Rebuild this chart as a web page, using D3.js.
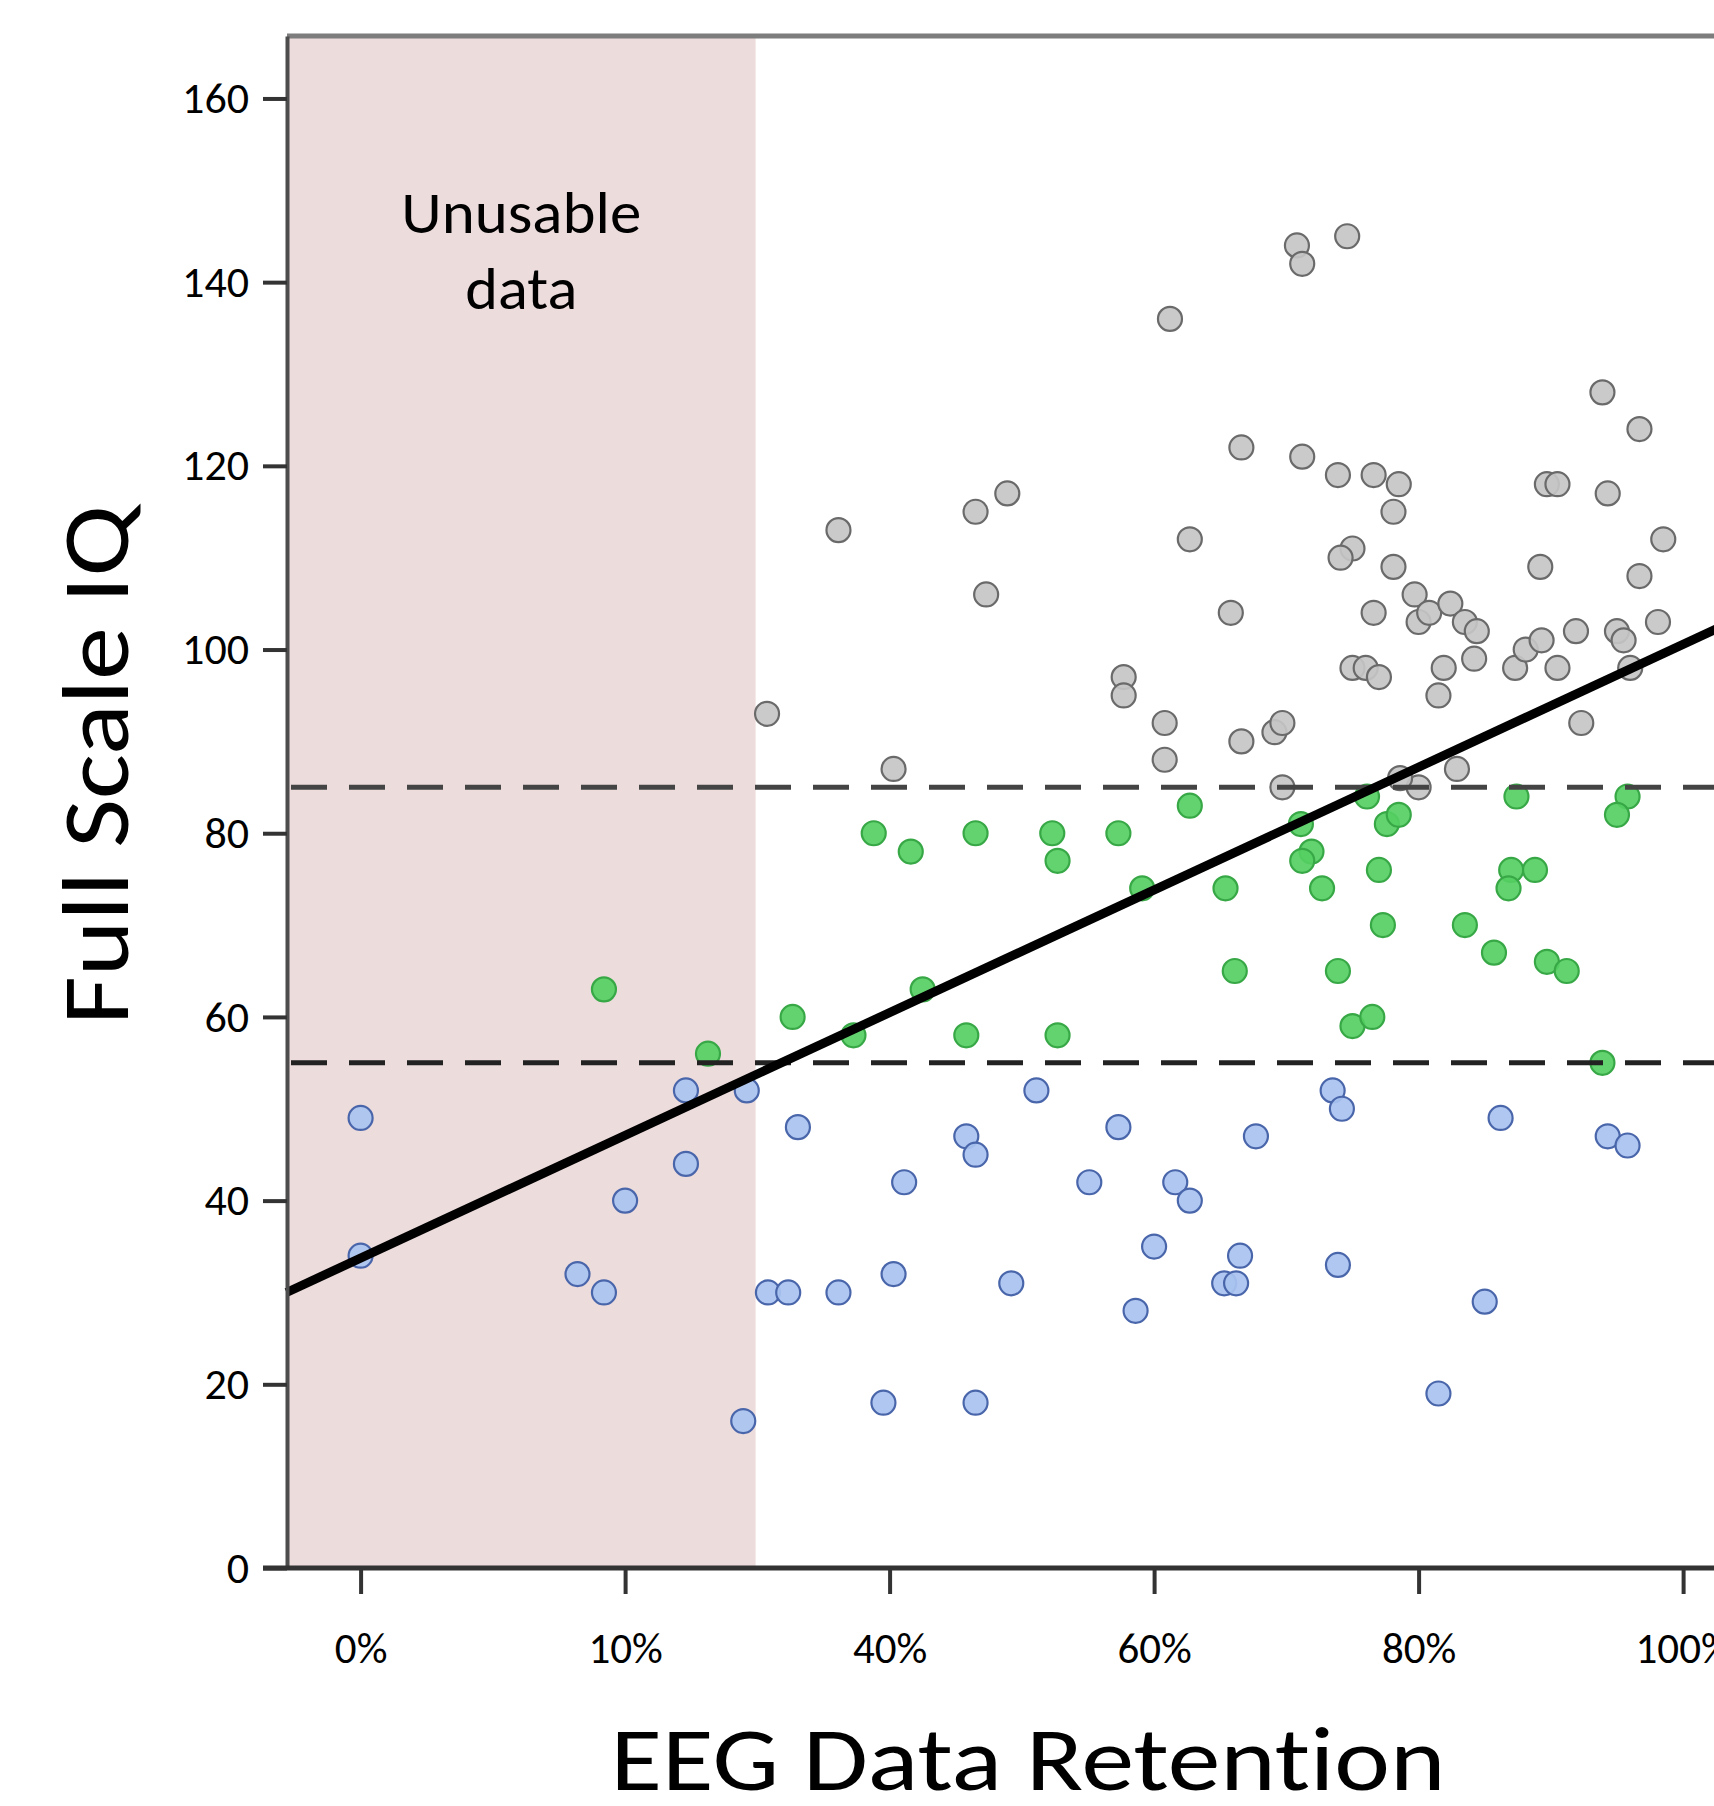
<!DOCTYPE html>
<html>
<head>
<meta charset="utf-8">
<script src="https://cdn.jsdelivr.net/npm/d3@7"></script>
<style>
  body { margin: 0; background: #ffffff; }
  svg { display: block; font-family: Carlito, Calibri, Lato, sans-serif; font-variant-ligatures: none; }
</style>
</head>
<body>
<div id="scatter"></div>
<script>
//Points: [EEG data retention (%), full scale IQ]
var highIQ = [
    [26.1, 93], [34.2, 113], [40.3, 87], [46.5, 115], [48.9, 117], [47.3, 106],
    [61.2, 136], [60.8, 92], [60.8, 88], [57.7, 97], [57.7, 95], [62.7, 112],
    [65.8, 104], [66.6, 122], [66.6, 90], [69.1, 91], [69.7, 92], [69.7, 85],
    [70.8, 144], [71.2, 142], [74.6, 145], [71.2, 121], [73.9, 119], [76.6, 119],
    [78.5, 118], [78.1, 115], [75.0, 111], [74.1, 110], [78.1, 109], [76.6, 104],
    [79.7, 106], [80.0, 103], [80.8, 104], [82.4, 105], [83.5, 103], [84.4, 102],
    [84.2, 99], [81.9, 98], [75.0, 98], [76.0, 98], [77.0, 97], [81.5, 95],
    [80.0, 85], [78.6, 86], [82.9, 87], [87.3, 98], [88.1, 100], [89.3, 101],
    [90.5, 98], [89.2, 109], [89.7, 118], [90.5, 118], [91.9, 102], [92.3, 92],
    [93.9, 128], [94.3, 117], [96.7, 124], [96.7, 108], [98.5, 112], [98.1, 103],
    [95.0, 102], [95.5, 101], [96.0, 98]
];

var midIQ = [
    [9.2, 63], [19.4, 56], [29.0, 60], [35.9, 58], [38.2, 80], [41.6, 78],
    [46.5, 80], [52.3, 80], [52.7, 77], [57.3, 80], [62.7, 83], [59.1, 74],
    [65.4, 74], [71.1, 81], [71.9, 78], [71.2, 77], [72.7, 74], [77.0, 76],
    [76.1, 84], [77.6, 81], [78.5, 82], [87.4, 84], [95.8, 84], [95.0, 82],
    [87.0, 76], [88.8, 76], [86.8, 74], [77.3, 70], [83.5, 70], [85.7, 67],
    [89.7, 66], [91.2, 65], [66.1, 65], [73.9, 65], [75.0, 59], [76.5, 60],
    [42.5, 63], [45.8, 58], [52.7, 58], [93.9, 55]
];

var lowIQ = [
    [0, 49], [0, 34], [8.2, 32], [9.2, 30], [10.0, 40], [16.9, 44],
    [16.9, 52], [23.8, 52], [23.4, 16], [29.6, 48], [26.2, 30], [28.5, 30],
    [34.2, 30], [51.1, 52], [45.8, 47], [46.5, 45], [57.3, 48], [67.7, 47],
    [73.5, 52], [74.2, 50], [86.2, 49], [94.3, 47], [95.8, 46], [41.1, 42],
    [55.1, 42], [61.6, 42], [62.7, 40], [60.0, 35], [66.5, 34], [73.9, 33],
    [40.3, 32], [49.2, 31], [65.3, 31], [66.2, 31], [58.6, 28], [85.0, 29],
    [39.3, 18], [46.5, 18], [81.5, 19]
];

//Axis ticks (the x axis is not evenly spaced in %)
var xTickValues = [0, 10, 40, 60, 80, 100];
var xTickLabels = ["0%", "10%", "40%", "60%", "80%", "100%"];
var yTickValues = [0, 20, 40, 60, 80, 100, 120, 140, 160];

//Reference lines and regions
var iqCutoffs = [55, 85];
var unusableLimit = 24.8;
var fitLine = [[-2.8, 30.0], [106.5, 104.9]];

//Stablish svg size
var svgWidth = 1714;
var svgHeight = 1806;

//Margins (plot runs past the right edge of the picture)
var margin = {
    top: 36,
    right: -55,
    bottom: 238,
    left: 287
};

var width = svgWidth - margin.left - margin.right;
var height = svgHeight - margin.top - margin.bottom;

var svg = d3.select("#scatter")
    .append("svg")
    .attr("width", svgWidth)
    .attr("height", svgHeight);

var chartGroup = svg.append("g")
    .attr("transform", `translate(${margin.left}, ${margin.top})`);

//x scale: piecewise, ticks equally spaced
var firstTick = 73.6;
var tickStep = 264.5;
var xLinearScale = d3.scaleLinear()
    .domain(xTickValues)
    .range(xTickValues.map((d, i) => firstTick + i * tickStep));

var yLinearScale = d3.scaleLinear()
    .domain([0, 166.8])
    .range([height, 0]);

//Unusable data region
chartGroup.append("rect")
    .attr("x", 0)
    .attr("y", 0)
    .attr("width", xLinearScale(unusableLimit))
    .attr("height", height)
    .attr("fill", "#eddcdc");

var regionLabel = [
    {text: "Unusable", y: 197, len: 240},
    {text: "data", y: 273, len: 112}
];

chartGroup.selectAll(".region-label")
    .data(regionLabel)
    .enter()
    .append("text")
    .attr("class", "region-label")
    .attr("x", xLinearScale(unusableLimit) / 2)
    .attr("y", d => d.y)
    .attr("text-anchor", "middle")
    .attr("textLength", d => d.len)
    .attr("lengthAdjust", "spacingAndGlyphs")
    .style("font-size", "59px")
    .text(d => d.text);

//Top frame line
chartGroup.append("line")
    .attr("x1", 0)
    .attr("x2", width)
    .attr("y1", 0)
    .attr("y2", 0)
    .attr("stroke", "#7d7d7d")
    .attr("stroke-width", 5);

//Points, one group per IQ band
var groups = [
    {data: highIQ, fill: "#c6c6c6", stroke: "#6a6a6a"},
    {data: midIQ, fill: "#55cf62", stroke: "#38a847"},
    {data: lowIQ, fill: "#a9c3f0", stroke: "#4a66ab"}
];

groups.forEach(function(g) {
    chartGroup.append("g")
        .selectAll("circle")
        .data(g.data)
        .enter()
        .append("circle")
        .attr("cx", d => xLinearScale(d[0]))
        .attr("cy", d => yLinearScale(d[1]))
        .attr("r", 12)
        .attr("fill", g.fill)
        .attr("fill-opacity", 0.92)
        .attr("stroke", g.stroke)
        .attr("stroke-width", 2.2);
});

//Dashed IQ cutoffs
chartGroup.selectAll(".cutoff")
    .data(iqCutoffs)
    .enter()
    .append("line")
    .attr("class", "cutoff")
    .attr("x1", 4)
    .attr("x2", width)
    .attr("y1", d => yLinearScale(d))
    .attr("y2", d => yLinearScale(d))
    .attr("stroke", d => d === 85 ? "#444444" : "#222222")
    .attr("stroke-width", 5)
    .attr("stroke-dasharray", "36,22");

//Fit line
var line = d3.line()
    .x(d => xLinearScale(d[0]))
    .y(d => yLinearScale(d[1]));

chartGroup.append("path")
    .datum(fitLine)
    .attr("d", line)
    .attr("fill", "none")
    .attr("stroke", "#000000")
    .attr("stroke-width", 9);

//Axes
var leftAxis = d3.axisLeft(yLinearScale)
    .tickValues(yTickValues)
    .tickSize(24)
    .tickSizeOuter(0)
    .tickPadding(14);

var yAxis = chartGroup.append("g")
    .call(leftAxis)
    .attr("font-family", null)
    .attr("font-size", null);

yAxis.select(".domain").attr("stroke", "#4d4d4d").attr("stroke-width", 4);
yAxis.selectAll(".tick line").attr("stroke", "#333333").attr("stroke-width", 4);
yAxis.selectAll(".tick text").style("font-size", "44px").attr("fill", "#000000");

var bottomAxis = d3.axisBottom(xLinearScale)
    .tickValues(xTickValues)
    .tickFormat((d, i) => xTickLabels[i])
    .tickSize(26)
    .tickSizeOuter(0)
    .tickPadding(38);

var xAxis = chartGroup.append("g")
    .attr("transform", `translate(0, ${height})`)
    .call(bottomAxis)
    .attr("font-family", null)
    .attr("font-size", null);

xAxis.select(".domain").remove();
xAxis.selectAll(".tick line").attr("stroke", "#333333").attr("stroke-width", 4);
xAxis.selectAll(".tick text").style("font-size", "43px").attr("fill", "#000000");

xAxis.append("line")
    .attr("x1", -24)
    .attr("x2", width)
    .attr("y1", 0)
    .attr("y2", 0)
    .attr("stroke", "#333333")
    .attr("stroke-width", 5);

//Axis titles
chartGroup.append("text")
    .attr("x", width / 2)
    .attr("y", height + 222)
    .attr("text-anchor", "middle")
    .attr("textLength", 835)
    .attr("lengthAdjust", "spacingAndGlyphs")
    .style("font-size", "90px")
    .text("EEG Data Retention");

chartGroup.append("text")
    .attr("transform", "rotate(-90)")
    .attr("x", -(765 - margin.top))
    .attr("y", 128 - margin.left)
    .attr("text-anchor", "middle")
    .attr("textLength", 520)
    .attr("lengthAdjust", "spacingAndGlyphs")
    .style("font-size", "94px")
    .text("Full Scale IQ");
</script>
</body>
</html>
